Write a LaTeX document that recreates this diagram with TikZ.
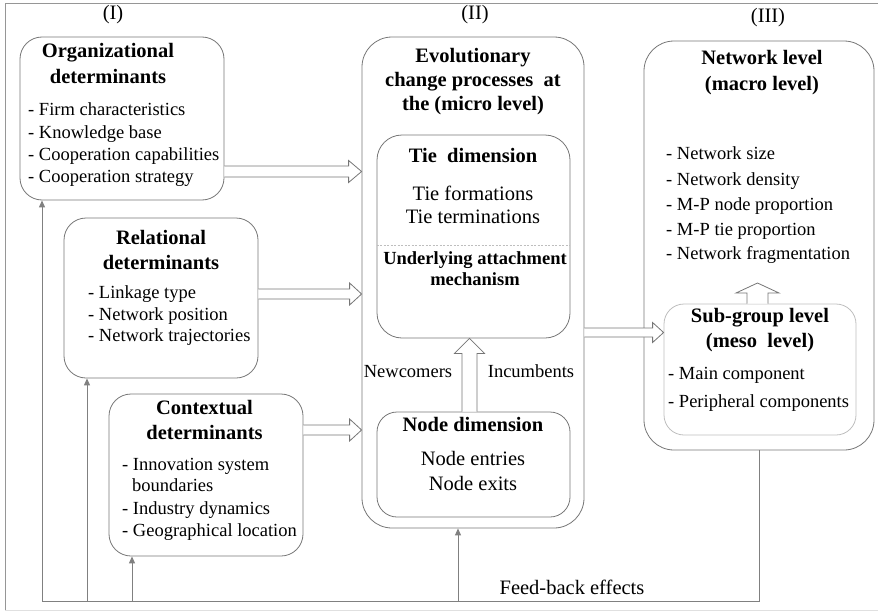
\documentclass[tikz,border=0pt]{standalone}
\usepackage{fontspec}
\setmainfont{Liberation Serif}
\usetikzlibrary{arrows.meta,calc}
\definecolor{bline}{RGB}{118,118,118}
\definecolor{fline}{RGB}{128,128,128}
\definecolor{lightb}{RGB}{190,190,190}
\definecolor{frameg}{RGB}{150,150,150}
\newcommand{\hollowright}[5]{%
\filldraw[hollow] let \p1=(#1), \p2=(#2) in
 (\x1,{\y1+#3pt}) -- ({\x2-#5pt},{\y1+#3pt}) -- ({\x2-#5pt},{\y1+#4pt}) -- (\x2,\y1) -- ({\x2-#5pt},{\y1-#4pt}) -- ({\x2-#5pt},{\y1-#3pt}) -- (\x1,{\y1-#3pt});}
\newcommand{\hollowup}[5]{%
\filldraw[hollow] let \p1=(#1), \p2=(#2) in
 ({\x1-#3pt},\y1) -- ({\x1-#3pt},{\y2-#5pt}) -- ({\x1-#4pt},{\y2-#5pt}) -- (\x1,\y2) -- ({\x1+#4pt},{\y2-#5pt}) -- ({\x1+#3pt},{\y2-#5pt}) -- ({\x1+#3pt},\y1);}
\begin{document}
\begin{tikzpicture}[x=1pt,y=-1pt,
  box/.style={draw=bline, line width=0.8pt, inner sep=0pt},
  hollow/.style={draw=bline, line width=0.8pt, fill=white},
  fbline/.style={draw=fline, line width=1pt},
  fbarrow/.style={draw=fline, line width=1pt, -{Triangle[length=7pt,width=6pt]}},
  ttl/.style={font=\fontsize{20.5}{25}\selectfont\bfseries, inner sep=0pt, anchor=mid},
  ttls/.style={font=\fontsize{18.5}{22}\selectfont\bfseries, inner sep=0pt, anchor=mid},
  reg/.style={font=\fontsize{20.5}{25}\selectfont, inner sep=0pt, anchor=mid},
  item/.style={font=\fontsize{18.5}{22}\selectfont, inner sep=0pt, anchor=mid west},
  lbl/.style={font=\fontsize{18.5}{22}\selectfont, inner sep=0pt, anchor=mid}]
\useasboundingbox (0,0) rectangle (878,613);
% frame
\draw[frameg, line width=0.8pt] (878,3) -- (5,3) -- (5,610);
\draw[black!12, line width=0.8pt] (5,610) -- (878,610);

% column labels
\node[reg] (lab1) at (113,17) {(I)};
\node[reg] (lab2) at (475,17) {(II)};
\node[reg] (lab3) at (768,20) {(III)};

% boxes
\node[box, rounded corners=22pt, minimum width=204pt, minimum height=163pt] (org) at (122,118.5) {};
\node[box, rounded corners=22pt, minimum width=194pt, minimum height=160pt] (rel) at (161,298) {};
\node[box, rounded corners=22pt, minimum width=194pt, minimum height=162pt] (ctx) at (206,475) {};
\node[box, rounded corners=30pt, minimum width=222pt, minimum height=491pt] (II) at (473,282.5) {};
\node[box, rounded corners=25pt, minimum width=193pt, minimum height=203pt] (tie) at (473.5,236.5) {};
\node[box, rounded corners=20pt, minimum width=193pt, minimum height=105pt] (nodebox) at (473.5,464.5) {};
\node[box, rounded corners=30pt, minimum width=230pt, minimum height=409pt] (III) at (759,245.5) {};
\node[box, draw=lightb, rounded corners=20pt, minimum width=192pt, minimum height=131pt] (sub) at (760,369.5) {};

% organizational
\node[ttl] (orgt1) at (108,55) {Organizational};
\node[ttl] (orgt2) at (108,81) {determinants};
\node[item] (org1) at (28,113) {- Firm characteristics};
\node[item] (org2) at (28,136) {- Knowledge base};
\node[item] (org3) at (28,158) {- Cooperation capabilities};
\node[item] (org4) at (28,180) {- Cooperation strategy};

% relational
\node[ttl] (relt1) at (161,242) {Relational};
\node[ttl] (relt2) at (161,267) {determinants};
\node[item] (rel1) at (88,296) {- Linkage type};
\node[item] (rel2) at (88,318) {- Network position};
\node[item] (rel3) at (88,339) {- Network trajectories};

% contextual
\node[ttl] (ctxt1) at (204.5,412) {Contextual};
\node[ttl] (ctxt2) at (204.5,437) {determinants};
\node[item] (ctx1) at (122,468) {- Innovation system};
\node[item] (ctx1b) at (132,489) {boundaries};
\node[item] (ctx2) at (122,512) {- Industry dynamics};
\node[item] (ctx3) at (122,534) {- Geographical location};

% II
\node[ttl] (iit1) at (473,60) {Evolutionary};
\node[ttl] (iit2) at (473,84) {change processes\ \ at};
\node[ttl] (iit3) at (473,108) {the (micro level)};
\node[ttl] (tiet) at (473,160) {Tie\ \ dimension};
\node[reg] (tie1) at (473,198) {Tie formations};
\node[reg] (tie2) at (473,221) {Tie terminations};
\coordinate (dsh) at (0,245);
\draw[lightb, line width=0.6pt, dash pattern=on 2pt off 1.5pt] (tie.west |- dsh) -- (tie.east |- dsh);
\node[ttls] (uam1) at (475,262) {Underlying attachment};
\node[ttls] (uam2) at (475,283) {mechanism};
\node[lbl] (newc) at (408,375) {Newcomers};
\node[lbl] (incu) at (531,375) {Incumbents};
\node[ttl] (nodet) at (473,429) {Node dimension};
\node[reg] (node1) at (473,463) {Node entries};
\node[reg] (node2) at (473,488) {Node exits};

% III
\node[ttl] (iiit1) at (762,62) {Network level};
\node[ttl] (iiit2) at (762,88) {(macro level)};
\node[item] (n1) at (666,157) {- Network size};
\node[item] (n2) at (666,183) {- Network density};
\node[item] (n3) at (666,208) {- M-P node proportion};
\node[item] (n4) at (666,233) {- M-P tie proportion};
\node[item] (n5) at (666,257) {- Network fragmentation};
\node[ttl] (subt1) at (760,320) {Sub-group level};
\node[ttl] (subt2) at (760,345) {(meso\ \ level)};
\node[item] (s1) at (668,377) {- Main component};
\node[item] (s2) at (668,405) {- Peripheral components};

% hollow arrows
\coordinate (y1) at (0,171.5);
\coordinate (y2) at (0,294);
\coordinate (y3) at (0,430);
\coordinate (y4) at (0,332.5);
\coordinate (xu1) at (469.5,0);
\coordinate (a6t) at (757.5,283);
\hollowright{org.east |- y1}{II.west |- y1}{5.5}{11}{13}
\hollowright{rel.east |- y2}{II.west |- y2}{5}{11}{12}
\hollowright{ctx.east |- y3}{II.west |- y3}{5}{11}{12}
\hollowright{II.east |- y4}{sub.west |- y4}{4.5}{10}{11}
\hollowup{nodebox.north -| xu1}{tie.south -| xu1}{7.5}{15}{15}
\hollowup{sub.north -| a6t}{a6t}{10.5}{21.5}{10}

% feedback
\coordinate (fb1) at (42,601);
\coordinate (fb2) at (87,601);
\coordinate (fb3) at (132,601);
\coordinate (fb4) at (458,601);
\coordinate (fbR) at (759,601);
\draw[fbline] (fb1) -- (fbR) -- (fbR |- III.south);
\draw[fbarrow] (fb1) -- (fb1 |- org.south);
\draw[fbarrow] (fb2) -- (fb2 |- rel.south);
\draw[fbarrow] (fb3) -- (fb3 |- ctx.south);
\draw[fbarrow] (fb4) -- (fb4 |- II.south);
\node[reg] (fbt) at (572,592) {Feed-back effects};
\end{tikzpicture}
\end{document}
